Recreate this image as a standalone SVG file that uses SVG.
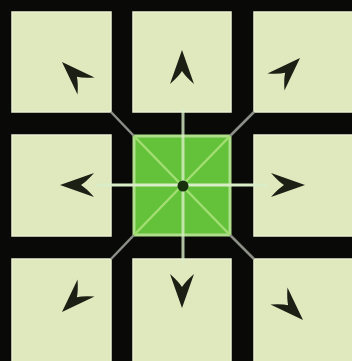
<svg xmlns="http://www.w3.org/2000/svg" width="352" height="361" viewBox="0 0 352 361">
<defs>
<style>
.cell{fill:#e0e8be;stroke:#ecf1d4;stroke-width:1.5}
.arrow{fill:#1c1f14}
.ray{stroke:#d9eec8;stroke-width:3;stroke-linecap:butt;fill:none}
.diag{stroke:#a2de72;stroke-width:2.5;fill:none}
.gapdiag{stroke:#8c8f88;stroke-width:2.5;fill:none}
</style>
<path id="ah" d="M0,0 L-34,-12 Q-26,-3 -21,0 Q-26,3 -34,12 Z"/>
</defs>
<rect width="352" height="361" fill="#090a07"/>
<g id="cell-tl"><rect class="cell" x="12" y="12" width="99" height="100"/><use href="#ah" class="arrow" transform="translate(62,62) rotate(-135)"/></g>
<g id="cell-t"><rect class="cell" x="133" y="12" width="98" height="100"/><use href="#ah" class="arrow" transform="translate(182,50) rotate(-90)"/></g>
<g id="cell-tr"><rect class="cell" x="254" y="12" width="100" height="100"/><use href="#ah" class="arrow" transform="translate(300,58) rotate(-45)"/></g>
<g id="cell-l"><rect class="cell" x="12" y="135" width="99" height="101"/><use href="#ah" class="arrow" transform="translate(60,185) rotate(180)"/></g>
<g id="cell-c"><rect x="134" y="136" width="96" height="99" fill="#63c23a" stroke="#afdf8a" stroke-width="3"/></g>
<g id="cell-r"><rect class="cell" x="254" y="135" width="100" height="101"/><use href="#ah" class="arrow" transform="translate(305,185)"/></g>
<g id="cell-bl"><rect class="cell" x="12" y="259" width="99" height="104"/><use href="#ah" class="arrow" transform="translate(62,312) rotate(135)"/></g>
<g id="cell-b"><rect class="cell" x="133" y="259" width="98" height="104"/><use href="#ah" class="arrow" transform="translate(182,308) rotate(90)"/></g>
<g id="cell-br"><rect class="cell" x="254" y="259" width="100" height="104"/><use href="#ah" class="arrow" transform="translate(303,320) rotate(45)"/></g>
<g id="connectors">
<line class="gapdiag" x1="111" y1="112" x2="134" y2="136"/>
<line class="gapdiag" x1="254" y1="112" x2="230" y2="136"/>
<line class="gapdiag" x1="111" y1="259" x2="134" y2="235"/>
<line class="gapdiag" x1="254" y1="259" x2="230" y2="235"/>
<line class="diag" x1="134" y1="136" x2="230" y2="235"/>
<line class="diag" x1="230" y1="136" x2="134" y2="235"/>
<line class="ray" x1="97" y1="185" x2="267" y2="185"/>
<line class="ray" x1="183" y1="108" x2="183" y2="263" opacity="0.8"/>
<circle id="center-dot" cx="183" cy="186" r="5.5" fill="#18300e"/>
</g>
</svg>
